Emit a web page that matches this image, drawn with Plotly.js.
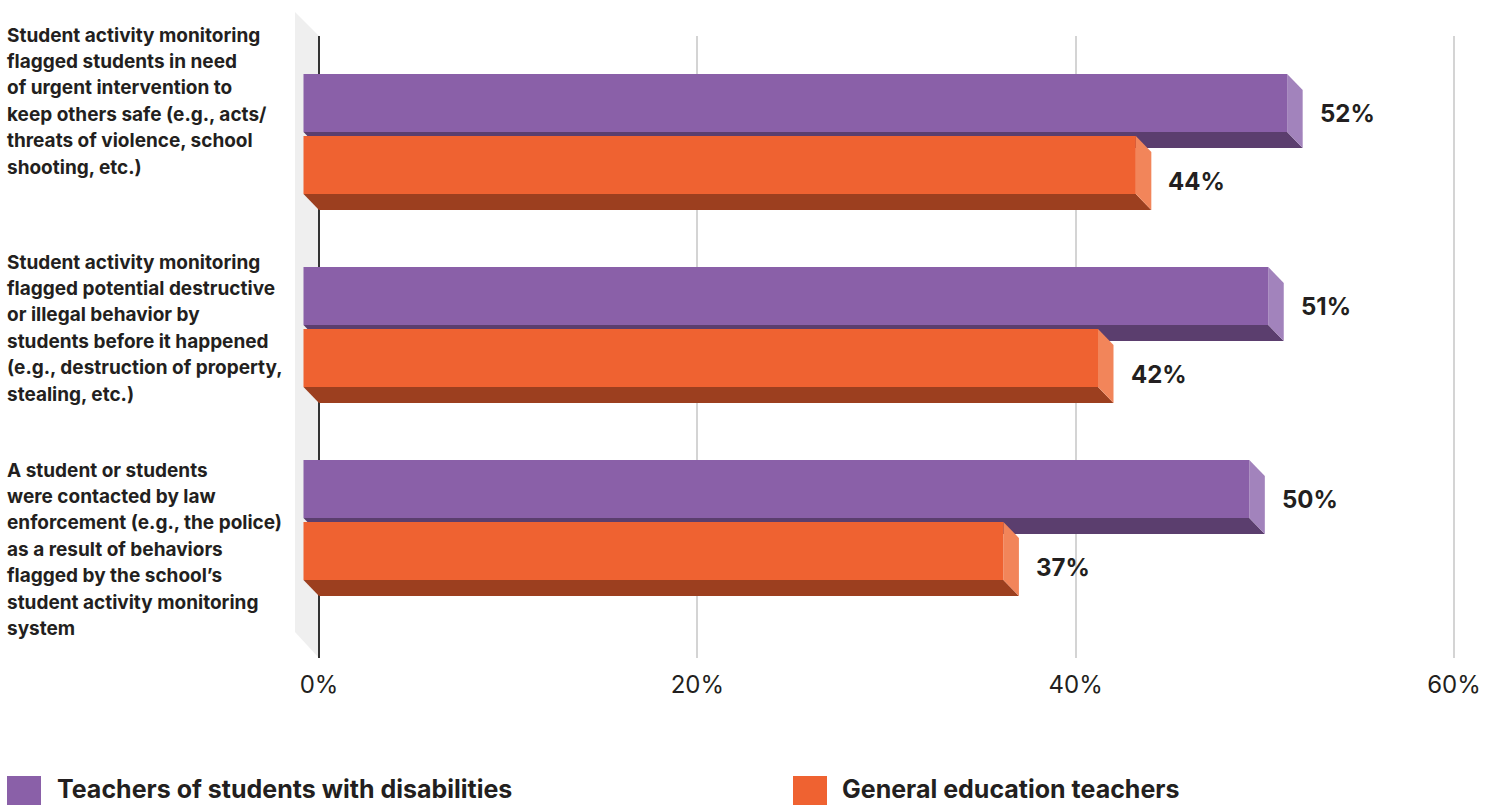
<!DOCTYPE html>
<html>
<head>
<meta charset="utf-8">
<script src="https://cdn.plot.ly/plotly-3.0.1.min.js"></script>
<style>
  html, body { margin: 0; padding: 0; background: #ffffff; }
  #chart { width: 1494px; height: 805px; }
</style>
</head>
<body>
<div id="chart"></div>
<script>
// ---------- data ----------
const categories = [
  "Student activity monitoring<br>flagged students in need<br>of urgent intervention to<br>keep others safe (e.g., acts/<br>threats of violence, school<br>shooting, etc.)",
  "Student activity monitoring<br>flagged potential destructive<br>or illegal behavior by<br>students before it happened<br>(e.g., destruction of property,<br>stealing, etc.)",
  "A student or students<br>were contacted by law<br>enforcement (e.g., the police)<br>as a result of behaviors<br>flagged by the school’s<br>student activity monitoring<br>system"
];
const seriesNames = ["Teachers of students with disabilities", "General education teachers"];
const disabilitiesTeachers = [52, 51, 50];
const generalEdTeachers = [44, 42, 37];
const xTickValues = [0, 20, 40, 60];
const xTickLabels = ["0%", "20%", "40%", "60%"];

// ---------- styling / layout constants ----------
const W = 1494, H = 805;
const plotLeftPx = 289, plotRightPx = 1473, plotTopPx = 36, plotBottomPx = 658;
const zeroPx = 319, sixtyPx = 1454;
const pxPerX = (sixtyPx - zeroPx) / 60;
const xRange = [(plotLeftPx - zeroPx) / pxPerX, (plotRightPx - zeroPx) / pxPerX];
const groupPitchPx = 193, firstGroupPx = 134;
const yRange = [(plotBottomPx - firstGroupPx) / groupPitchPx, (plotTopPx - firstGroupPx) / groupPitchPx];

const depthX = 15.5 / pxPerX;        // extrusion in x units
const depthY = 16 / groupPitchPx;    // extrusion in y units (downwards)
const barW = 58 / groupPitchPx;
const gapHalf = 2 / groupPitchPx;

const FONT = "Inter, 'Noto Sans', 'Liberation Sans', sans-serif";
const TXT = "#231f20";

const seriesStyles = [
  {front: "#8a60a8", bottom: "#5b3e6e", side: "#a283bc", offset: -gapHalf - barW, labelShift: -10},
  {front: "#ef6231", bottom: "#9c3f1f", side: "#f2855a", offset: gapHalf, labelShift: -16}
];
const seriesValues = [disabilitiesTeachers, generalEdTeachers];
const positions = categories.map((_, i) => i);

// ---------- traces: front faces ----------
const traces = seriesValues.map((vals, s) => ({
  type: "bar",
  orientation: "h",
  name: seriesNames[s],
  y: positions,
  x: vals,
  base: vals.map(() => -depthX),
  width: vals.map(() => barW),
  offset: vals.map(() => seriesStyles[s].offset),
  marker: {color: seriesStyles[s].front, line: {width: 0}},
  hovertemplate: "%{x}%<extra>" + seriesNames[s] + "</extra>",
  showlegend: false
}));

// pixel -> paper helpers (for decoration only)
const pxX = px => (px - plotLeftPx) / (plotRightPx - plotLeftPx);
const pxY = py => (plotBottomPx - py) / (plotBottomPx - plotTopPx);

// ---------- shapes: 3D faces, wall ----------
const shapes = [];
// back wall
shapes.push({
  type: "path", xref: "x", yref: "paper", layer: "below",
  path: `M ${(295 - zeroPx) / pxPerX},${pxY(12)} L 0,1 L 0,0 L ${(295 - zeroPx) / pxPerX},${pxY(632)} Z`,
  fillcolor: "#efefef", line: {width: 0}
});
seriesValues.forEach((vals, s) => {
  const st = seriesStyles[s];
  vals.forEach((v, i) => {
    const yt = i + st.offset;
    const yb = yt + barW;
    // bottom face
    shapes.push({
      type: "path", xref: "x", yref: "y", layer: "between",
      path: `M ${-depthX},${yb} L ${v - depthX},${yb} L ${v},${yb + depthY} L 0,${yb + depthY} Z`,
      fillcolor: st.bottom, line: {width: 0}
    });
    // side face
    shapes.push({
      type: "path", xref: "x", yref: "y", layer: "between",
      path: `M ${v - depthX},${yt} L ${v},${yt + depthY} L ${v},${yb + depthY} L ${v - depthX},${yb} Z`,
      fillcolor: st.side, line: {width: 0}
    });
  });
});

// ---------- annotations ----------
const annotations = [];
// value labels
seriesValues.forEach((vals, s) => {
  const st = seriesStyles[s];
  vals.forEach((v, i) => {
    annotations.push({
      x: v, y: i + st.offset + barW / 2, xref: "x", yref: "y",
      text: "<b>" + v + "%</b>", showarrow: false, xanchor: "left", yanchor: "middle",
      xshift: 15, yshift: st.labelShift,
      font: {family: FONT, size: 24, color: TXT}
    });
  });
});
// category labels, one annotation per line
const labelFirstLineOffsetPx = [-99, -65, -50];
const labelLinePitch = 26.4;
categories.forEach((c, i) => {
  c.split("<br>").forEach((line, k) => {
    annotations.push({
      x: pxX(5), xref: "paper", xanchor: "left",
      y: i, yref: "y", yanchor: "middle",
      yshift: -(labelFirstLineOffsetPx[i] + k * labelLinePitch),
      text: "<b>" + line + "</b>", showarrow: false,
      font: {family: FONT, size: 19, color: TXT}
    });
  });
});

// legend (drawn manually to match large swatches)
const legendItems = [{sw: 7, tx: 56}, {sw: 793, tx: 841}];
legendItems.forEach((it, s) => {
  shapes.push({
    type: "rect", xref: "paper", yref: "paper", layer: "above",
    x0: pxX(it.sw), x1: pxX(it.sw + 34), y0: pxY(776), y1: pxY(812),
    fillcolor: seriesStyles[s].front, line: {width: 0}
  });
  annotations.push({
    x: pxX(it.tx), y: pxY(789), xref: "paper", yref: "paper",
    xanchor: "left", yanchor: "middle", showarrow: false, borderpad: 0,
    text: "<b>" + seriesNames[s] + "</b>",
    font: {family: FONT, size: 25, color: TXT}
  });
});

const layout = {
  width: W, height: H,
  margin: {l: plotLeftPx, r: W - plotRightPx, t: plotTopPx, b: H - plotBottomPx, pad: 0},
  paper_bgcolor: "#ffffff", plot_bgcolor: "rgba(0,0,0,0)",
  barmode: "overlay",
  showlegend: false,
  xaxis: {
    range: xRange, tickvals: xTickValues, ticktext: xTickLabels,
    showgrid: true, gridcolor: "#d4d4d4", gridwidth: 1.5,
    zeroline: true, zerolinecolor: "#333333", zerolinewidth: 2,
    showline: false, ticks: "", ticklabelstandoff: 10,
    tickfont: {family: FONT, size: 24, color: TXT},
    fixedrange: true
  },
  yaxis: {
    range: yRange, showgrid: false, zeroline: false, showline: false,
    showticklabels: false, ticks: "", fixedrange: true
  },
  shapes: shapes,
  annotations: annotations,
  font: {family: FONT, color: TXT}
};

Plotly.newPlot("chart", traces, layout, {displayModeBar: false});
</script>
</body>
</html>
